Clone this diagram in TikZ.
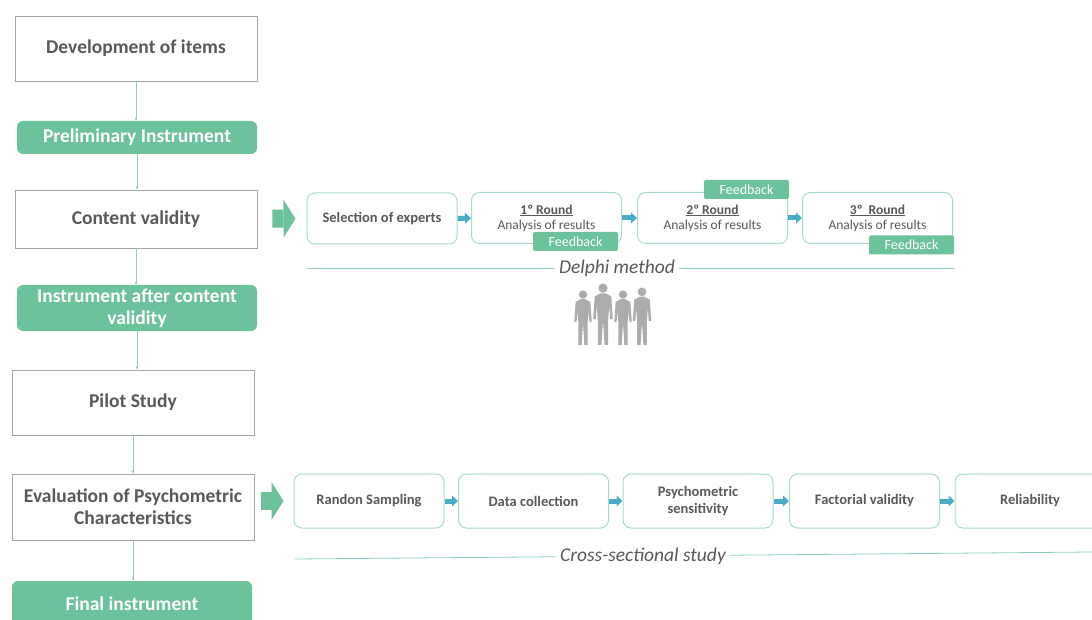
\documentclass[tikz,border=0pt]{standalone}
\usepackage{fontspec}
\setmainfont{Carlito}
\usetikzlibrary{arrows.meta}

\definecolor{txtgray}{RGB}{89,89,89}
\definecolor{boxgray}{RGB}{165,165,165}
\definecolor{boxgreen}{RGB}{108,194,155}
\definecolor{edgegreen}{RGB}{168,220,198}
\definecolor{linegreen}{RGB}{140,208,180}
\definecolor{flowblue}{RGB}{75,172,198}
\definecolor{peoplegray}{RGB}{172,172,172}

\tikzset{
  stage/.style={draw=boxgray, line width=0.9pt, fill=white, text=txtgray,
    font=\fontsize{19.5}{22}\selectfont\bfseries, align=center,
    minimum width=242pt, inner sep=2pt},
  result/.style={fill=boxgreen, rounded corners=6pt, text=white,
    font=\fontsize{19.5}{22}\selectfont\bfseries, align=center,
    minimum width=240pt, inner sep=2pt},
  task/.style={draw=edgegreen, line width=1pt, rounded corners=8pt, fill=white,
    text=txtgray, font=\fontsize{13.5}{15}\selectfont, align=center,
    minimum width=150pt, minimum height=51pt, inner sep=2pt},
  boldtask/.style={task, font=\fontsize{14.5}{17}\selectfont\bfseries},
  feedback/.style={fill=boxgreen, rounded corners=2pt, text=white,
    font=\fontsize{14}{15}\selectfont, minimum width=85pt,
    minimum height=19pt, inner sep=0pt},
  link/.style={draw=linegreen, line width=0.8pt, -{Latex[length=3pt,width=3pt]}},
  bigarrow/.style={draw=boxgreen, line width=18pt,
    -{Triangle[length=12pt,width=38pt,line width=0pt]}},
  smallarrow/.style={draw=flowblue, line width=5pt,
    -{Triangle[length=6pt,width=11pt,line width=0pt]}},
  method/.style={text=txtgray, font=\fontsize{19.5}{22}\selectfont\itshape, inner sep=4pt},
  rule/.style={draw=linegreen, line width=0.8pt},
  expert/.pic={
    \fill[peoplegray] (0,5) circle (4.5pt);
    \fill[peoplegray] (-2.5,10) -- (-8,13) -- (-9.5,35) -- (-7,35) -- (-6,22)
      -- (-5,36) -- (-5,60) -- (-1.5,60) -- (0,36) -- (1.5,60) -- (5,60)
      -- (5,36) -- (6,22) -- (7,35) -- (9.5,35) -- (8,13) -- (2.5,10) -- cycle;
  }
}

\begin{document}
\begin{tikzpicture}[x=1pt, y=-1pt]
  \useasboundingbox (0,0) rectangle (1092,620);
  \clip (0,0) rectangle (1092,620);

  \node[stage, minimum height=65pt] (dev) at (136,48.5) {Development of items};
  \node[result, minimum height=33pt] (prelim) at (137,137.5) {Preliminary Instrument};
  \node[stage, minimum height=58pt] (content) at (136,219) {Content validity};
  \node[result, minimum height=46pt] (after) at (137,308) {Instrument after content\\validity};
  \node[stage, minimum height=65pt] (pilot) at (133,402.5) {Pilot Study};
  \node[stage, minimum height=66pt] (eval) at (133,507) {Evaluation of Psychometric\\Characteristics};
  \node[result, minimum height=46pt] (final) at (132,604) {Final instrument};

  \draw[link] (dev.south) -- (dev.south |- prelim.north);
  \draw[link] (prelim.south) -- (prelim.south |- content.north);
  \draw[link] (content.south) -- (content.south |- after.north);
  \draw[link] (after.south) -- (after.south |- pilot.north);
  \draw[link] (pilot.south) -- (pilot.south |- eval.north);
  \draw[link] (eval.south) -- (eval.south |- final.north);

  \node[boldtask] (sel) at (382,218.5) {Selection of experts};
  \node[task] (r1) at (546.5,218) {\underline{\textbf{1º Round}}\\Analysis of results};
  \node[task] (r2) at (712.5,218) {\underline{\textbf{2º Round}}\\Analysis of results};
  \node[task] (r3) at (877.5,218) {\underline{\textbf{3º\ \ Round}}\\Analysis of results};
  \node[feedback] (fb1) at (575.5,241.5) {Feedback};
  \node[feedback] (fb2) at (746.5,189.5) {Feedback};
  \node[feedback] (fb3) at (911.5,245) {Feedback};

  \draw[bigarrow, shorten <=15pt, shorten >=11pt] (content) -- (sel);
  \draw[smallarrow] (sel) -- (r1);
  \draw[smallarrow] (r1) -- (r2);
  \draw[smallarrow] (r2) -- (r3);

  \node[method] (delphi) at (617,268) {Delphi method};
  \coordinate (dl) at (307,268);
  \coordinate (dr) at (955,268);
  \draw[rule] (dl) -- (delphi);
  \draw[rule] (delphi) -- (dr);

  \pic[scale=0.92] (p1) at (583,290) {expert};
  \pic[scale=1.03] (p2) at (603,283) {expert};
  \pic[scale=0.92] (p3) at (623,290) {expert};
  \pic[scale=0.97] (p4) at (642,287) {expert};

  \node[boldtask, minimum height=54pt] (rs) at (369,501) {Randon Sampling};
  \node[boldtask, minimum height=54pt] (dc) at (533.5,501) {Data collection};
  \node[boldtask, minimum height=54pt] (ps) at (698,501) {Psychometric\\sensitivity};
  \node[boldtask, minimum height=54pt] (fv) at (864.5,501) {Factorial validity};
  \node[boldtask, minimum height=54pt] (rel) at (1030,501) {Reliability};

  \draw[bigarrow, shorten <=7pt, shorten >=10pt] (eval.east |- rs.west) -- (rs);
  \draw[smallarrow] (rs) -- (dc);
  \draw[smallarrow] (dc) -- (ps);
  \draw[smallarrow] (ps) -- (fv);
  \draw[smallarrow] (fv) -- (rel);

  \node[method] (cross) at (643,556) {Cross-sectional study};
  \coordinate (cl) at (295,559);
  \coordinate (cr) at (1092,552);
  \draw[rule] (cl) -- (cross);
  \draw[rule] (cross) -- (cr);
\end{tikzpicture}
\end{document}
